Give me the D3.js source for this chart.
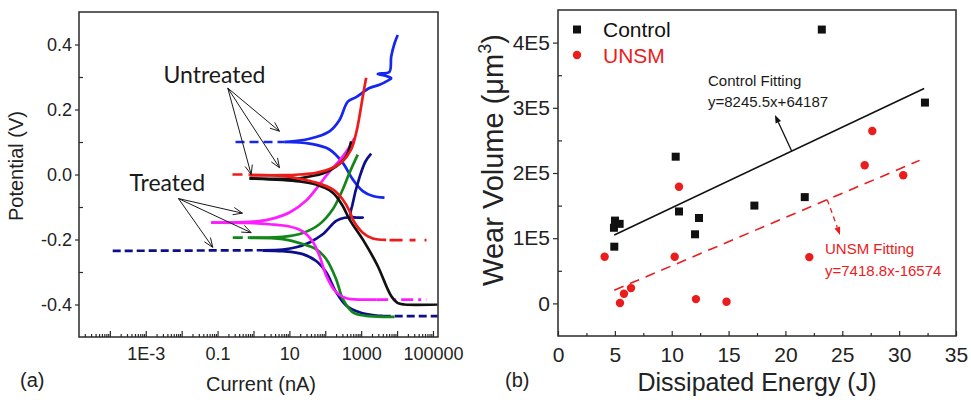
<!DOCTYPE html>
<html>
<head>
<meta charset="utf-8">
<script src="https://cdn.jsdelivr.net/npm/d3@7"></script>
<style>
  body { margin: 0; background: #fff; }
  svg { display: block; }
</style>
</head>
<body>
<svg id="chart" width="971" height="400"></svg>
<script>
// ===== Panel (a): potentiodynamic polarization curves, [current (nA), potential (V)] =====
const blueDash      = [[0.316, 0.100], [7.31, 0.100]];
const blueAnodic    = [[7.31, 0.100], [36.3, 0.110], [131, 0.133], [249, 0.168], [424, 0.224], [726, 0.238],
                       [1702, 0.266], [3236, 0.276], [5508, 0.289], [6855, 0.296], [4966, 0.303], [2897, 0.309],
                       [3606, 0.311], [6138, 0.316], [6855, 0.362], [8472, 0.403], [10447, 0.429]];
const blueCathodic  = [[7.31, 0.100], [36.3, 0.095], [131, 0.077], [307, 0.036], [583, -0.015], [1109, -0.051],
                       [2104, -0.066], [4457, -0.071]];

const redDashLeft   = [[0.260, 0.000], [0.776, 0.000]];
const redAnodic     = [[0.776, -0.002], [6.55, -0.002], [19.1, 0.000], [55.8, 0.005], [162, 0.021], [307, 0.041],
                       [526, 0.077], [726, 0.128], [897, 0.179], [1109, 0.240], [1377, 0.298]];
const redCathodic   = [[0.776, -0.002], [6.55, -0.004], [19.1, -0.013], [55.8, -0.025], [162, -0.046], [307, -0.077],
                       [472, -0.112], [583, -0.138], [1109, -0.179], [2104, -0.197], [4966, -0.201]];
const redDashRight  = [[6166, -0.202], [66069, -0.202]];

const blackAnodic   = [[0.776, -0.012], [19.1, -0.012], [36.3, -0.006], [85.1, 0.003], [201, 0.025], [382, 0.056],
                       [526, 0.102]];
const blackCathodic = [[0.776, -0.012], [19.1, -0.021], [55.8, -0.031], [162, -0.056], [307, -0.097], [472, -0.138],
                       [1230, -0.208], [2844, -0.280], [6855, -0.374], [10233, -0.395], [16069, -0.400], [134896, -0.400]];

const magentaAnodic   = [[0.0664, -0.148], [0.774, -0.146], [2.79, -0.138], [10.1, -0.117], [29.4, -0.080],
                         [68.9, -0.031], [131, 0.009], [249, 0.043], [424, 0.077], [650, 0.112]];
const magentaCathodic = [[0.0664, -0.148], [0.774, -0.149], [2.79, -0.153], [10.1, -0.160], [23.6, -0.175],
                         [44.9, -0.207], [68.9, -0.250], [106, -0.311], [201, -0.362], [382, -0.381], [1109, -0.385],
                         [2618, -0.385]];
const magentaDash     = [[2618, -0.385], [66069, -0.385]];

const greenDash     = [[0.265, -0.194], [0.774, -0.194]];
const greenAnodic   = [[0.774, -0.194], [6.55, -0.192], [23.6, -0.180], [68.9, -0.153], [162, -0.107], [307, -0.046],
                       [472, 0.005], [804, 0.061]];
const greenCathodic = [[0.774, -0.195], [6.55, -0.199], [23.6, -0.214], [55.8, -0.230], [106, -0.260], [201, -0.322],
                       [307, -0.383], [583, -0.424], [1377, -0.435], [4966, -0.438], [8472, -0.438]];

const navyDashLeft  = [[0.000120, -0.235], [1.82, -0.233]];
const navyAnodic    = [[1.82, -0.233], [6.55, -0.231], [15.5, -0.224], [36.3, -0.209], [85.1, -0.184], [201, -0.143],
                       [343, -0.133], [1109, -0.133], [520, -0.128], [573, -0.092], [897, -0.009], [1318, 0.040],
                       [1901, 0.064]];
const navyCathodic  = [[1.82, -0.234], [6.55, -0.236], [23.6, -0.245], [55.8, -0.266], [106, -0.301], [201, -0.362],
                       [382, -0.403], [897, -0.424], [2618, -0.434], [3981, -0.435]];
const navyDashRight = [[3981, -0.436], [134896, -0.436]];

// Axis ticks of panel (a)
const aXLabelValues = [1e-3, 1e-1, 1e1, 1e3, 1e5];
const aXLabels      = ["1E-3", "0.1", "10", "1000", "100000"];
const aYMajor       = [-0.4, -0.2, 0.0, 0.2, 0.4];
const aYMinor       = [-0.3, -0.1, 0.1, 0.3];

// Annotation anchors of panel (a), [current (nA), potential (V)]
const untreatedLabel = [0.00311, 0.283];
const untreatedFrom  = [0.192, 0.266];
const untreatedTips  = [[5.30, 0.133], [5.30, 0.021], [0.863, 0.000]];
const treatedLabel   = [0.000352, -0.051];
const treatedFrom    = [0.00813, -0.074];
const treatedTips    = [[0.494, -0.119], [0.863, -0.179], [0.0735, -0.224]];

// ===== Panel (b): wear volume vs dissipated energy =====
const controlEnergy = [4.95, 4.92, 5.01, 5.42, 10.35, 10.64, 12.05, 12.4, 17.27, 21.7, 23.2, 32.27];
const controlVolume = [87000, 116000, 127000, 122000, 225000, 141000, 106000, 131000, 150000, 163000, 420000, 308000];
const unsmEnergy    = [4.1, 5.45, 5.8, 6.42, 10.26, 10.64, 12.13, 14.82, 22.1, 26.97, 27.64, 30.36];
const unsmVolume    = [71500, 500, 14800, 23500, 71500, 179000, 6600, 2600, 71000, 212000, 264500, 196500];

const controlFit = { slope: 8245.5, intercept: 64187, from: 4.95, to: 32.2 };
const unsmFit    = { slope: 7418.8, intercept: -16574, from: 4.95, to: 31.8 };

const bXMajor  = [0, 5, 10, 15, 20, 25, 30, 35];
const bXMinor  = [2.5, 7.5, 12.5, 17.5, 22.5, 27.5, 32.5];
const bYMajor  = [0, 100000, 200000, 300000, 400000];
const bYLabels = ["0", "1E5", "2E5", "3E5", "4E5"];
const bYMinor  = [50000, 150000, 250000, 350000];

// ===== drawing =====
const svg = d3.select("#chart");
const AXIS_FONT = "'Liberation Sans', Arial, sans-serif";
const NOTE_FONT = "Lato, 'Open Sans', sans-serif";
const FRAME = "#2a2a2a";

function styleAxis(g, size) {
  g.select(".domain").remove();
  g.selectAll("line").attr("stroke", FRAME).attr("stroke-width", 1.2);
  g.selectAll("text").attr("font-family", AXIS_FONT).attr("font-size", size).attr("fill", "#222");
}

function openArrow(g, x1, y1, x2, y2) {
  const a = Math.atan2(y2 - y1, x2 - x1), L = 10, s = 0.38;
  g.append("line").attr("x1", x1).attr("y1", y1).attr("x2", x2).attr("y2", y2);
  g.append("path").attr("fill", "none")
    .attr("d", `M${x2 - L * Math.cos(a - s)},${y2 - L * Math.sin(a - s)} L${x2},${y2} L${x2 - L * Math.cos(a + s)},${y2 - L * Math.sin(a + s)}`);
}

function solidArrow(g, x1, y1, x2, y2, color, dash) {
  const a = Math.atan2(y2 - y1, x2 - x1), L = 8, hw = 3;
  const bx0 = x2 - L * Math.cos(a), by0 = y2 - L * Math.sin(a);
  g.append("line").attr("x1", x1).attr("y1", y1).attr("x2", bx0).attr("y2", by0)
    .attr("stroke", color).attr("stroke-width", 1.3).attr("stroke-dasharray", dash || null);
  g.append("path").attr("fill", color)
    .attr("d", `M${x2},${y2} L${bx0 + hw * Math.sin(a)},${by0 - hw * Math.cos(a)} L${bx0 - hw * Math.sin(a)},${by0 + hw * Math.cos(a)} Z`);
}

// ---------- Panel (a) ----------
const ax = d3.scaleLog().domain([Math.pow(10, -4.86), Math.pow(10, 5.14)]).range([79, 438]);
const ay = d3.scaleLinear().domain([-0.5, 0.5]).range([337, 12]);

svg.append("clipPath").attr("id", "clipA").append("rect")
  .attr("x", 79).attr("y", 12).attr("width", 359).attr("height", 325);

const aDecades = d3.range(-4, 6).map(e => Math.pow(10, e));
const aMinor = [];
for (let e = -5; e <= 5; e++) for (let k = 2; k <= 9; k++) {
  const v = k * Math.pow(10, e);
  if (v > ax.domain()[0] && v < ax.domain()[1]) aMinor.push(v);
}

const gA = svg.append("g");
styleAxis(gA.append("g").attr("transform", "translate(0,337)")
  .call(d3.axisBottom(ax).tickValues(aMinor).tickFormat("").tickSizeInner(-3).tickSizeOuter(0)), 18);
styleAxis(gA.append("g").attr("transform", "translate(0,337)")
  .call(d3.axisBottom(ax).tickValues(aDecades).tickFormat("").tickSizeInner(-6).tickSizeOuter(0)), 18);
styleAxis(gA.append("g").attr("transform", "translate(0,337)")
  .call(d3.axisBottom(ax).tickValues(aXLabelValues).tickFormat((d, i) => aXLabels[i])
    .tickSizeInner(0).tickSizeOuter(0).tickPadding(10)), 18);
styleAxis(gA.append("g").attr("transform", "translate(79,0)")
  .call(d3.axisLeft(ay).tickValues(aYMajor).tickFormat(d => d.toFixed(1))
    .tickSizeInner(4).tickSizeOuter(0).tickPadding(3)), 18);
styleAxis(gA.append("g").attr("transform", "translate(79,0)")
  .call(d3.axisLeft(ay).tickValues(aYMinor).tickFormat("").tickSizeInner(-4).tickSizeOuter(0)), 18);

const curveLine = d3.line().x(d => ax(d[0])).y(d => ay(d[1])).curve(d3.curveCatmullRom.alpha(0.5));
const straight = d3.line().x(d => ax(d[0])).y(d => ay(d[1]));

const BLUE = "#1426f0", RED = "#ee1b1b", BLACK = "#111111", MAGENTA = "#ff1cff", GREEN = "#13861a", NAVY = "#0c0f8c";
const aSegments = [
  { pts: blueDash, color: BLUE, dash: "9,5", line: straight },
  { pts: blueCathodic, color: BLUE }, { pts: blueAnodic, color: BLUE },
  { pts: navyDashLeft, color: NAVY, dash: "8,4", line: straight },
  { pts: navyCathodic, color: NAVY }, { pts: navyAnodic, color: NAVY },
  { pts: navyDashRight, color: NAVY, dash: "8,4", line: straight },
  { pts: greenDash, color: GREEN, dash: "10,5", line: straight },
  { pts: greenCathodic, color: GREEN }, { pts: greenAnodic, color: GREEN },
  { pts: magentaCathodic, color: MAGENTA }, { pts: magentaAnodic, color: MAGENTA },
  { pts: magentaDash, color: MAGENTA, dash: "12,5,3,5", line: straight },
  { pts: blackCathodic, color: BLACK }, { pts: blackAnodic, color: BLACK },
  { pts: redDashLeft, color: RED, dash: "10,6", line: straight },
  { pts: redCathodic, color: RED }, { pts: redAnodic, color: RED },
  { pts: redDashRight, color: RED, dash: "13,7,6,9", line: straight }
];
const curvesA = svg.append("g").attr("clip-path", "url(#clipA)");
aSegments.forEach(s => {
  curvesA.append("path").attr("d", (s.line || curveLine)(s.pts))
    .attr("fill", "none").attr("stroke", s.color).attr("stroke-width", 2.7)
    .attr("stroke-linejoin", "round").attr("stroke-linecap", "butt")
    .attr("stroke-dasharray", s.dash || null);
});

// annotations of panel (a)
const notesA = svg.append("g").attr("stroke", "#1a1a1a").attr("stroke-width", 1);
untreatedTips.forEach(t => openArrow(notesA, ax(untreatedFrom[0]), ay(untreatedFrom[1]), ax(t[0]), ay(t[1])));
treatedTips.forEach(t => openArrow(notesA, ax(treatedFrom[0]), ay(treatedFrom[1]), ax(t[0]), ay(t[1])));
svg.append("text").attr("x", ax(untreatedLabel[0])).attr("y", ay(untreatedLabel[1]))
  .attr("font-family", NOTE_FONT).attr("font-size", 23).attr("fill", "#1a1a1a").text("Untreated");
svg.append("text").attr("x", ax(treatedLabel[0])).attr("y", ay(treatedLabel[1]))
  .attr("font-family", NOTE_FONT).attr("font-size", 23).attr("fill", "#1a1a1a").text("Treated");

svg.append("rect").attr("x", 79).attr("y", 12).attr("width", 359).attr("height", 325)
  .attr("fill", "none").attr("stroke", FRAME).attr("stroke-width", 1.5);

svg.append("text").attr("x", 261).attr("y", 391).attr("text-anchor", "middle")
  .attr("font-family", AXIS_FONT).attr("font-size", 20).attr("fill", "#222").text("Current (nA)");
svg.append("text").attr("transform", "translate(23,166) rotate(-90)").attr("text-anchor", "middle")
  .attr("font-family", AXIS_FONT).attr("font-size", 20).attr("fill", "#222").text("Potential (V)");
svg.append("text").attr("x", 20).attr("y", 387)
  .attr("font-family", AXIS_FONT).attr("font-size", 20).attr("fill", "#222").text("(a)");

// ---------- Panel (b) ----------
const bx = d3.scaleLinear().domain([0, 35]).range([558, 956]);
const by = d3.scaleLinear().domain([-50000, 450000]).range([336, 10]);

const gB = svg.append("g");
styleAxis(gB.append("g").attr("transform", "translate(0,336)")
  .call(d3.axisBottom(bx).tickValues(bXMinor).tickFormat("").tickSizeInner(-3).tickSizeOuter(0)), 21);
styleAxis(gB.append("g").attr("transform", "translate(0,336)")
  .call(d3.axisBottom(bx).tickValues(bXMajor).tickFormat(d3.format("d"))
    .tickSizeInner(-5).tickSizeOuter(0).tickPadding(11)), 21);
styleAxis(gB.append("g").attr("transform", "translate(558,0)")
  .call(d3.axisLeft(by).tickValues(bYMajor).tickFormat((d, i) => bYLabels[i])
    .tickSizeInner(5).tickSizeOuter(0).tickPadding(3)), 21);
styleAxis(gB.append("g").attr("transform", "translate(558,0)")
  .call(d3.axisLeft(by).tickValues(bYMinor).tickFormat("").tickSizeInner(-4).tickSizeOuter(0)), 21);

const CTRL = "#111111", UNSM = "#ea1c1c";

// fitted lines
const fitLine = d3.line().x(d => bx(d[0])).y(d => by(d[1]));
const fitPts = f => [f.from, f.to].map(x => [x, f.slope * x + f.intercept]);
svg.append("path").attr("d", fitLine(fitPts(controlFit))).attr("fill", "none")
  .attr("stroke", CTRL).attr("stroke-width", 1.6);
svg.append("path").attr("d", fitLine(fitPts(unsmFit))).attr("fill", "none")
  .attr("stroke", UNSM).attr("stroke-width", 1.6).attr("stroke-dasharray", "10,7");

// points
svg.append("g").selectAll("rect").data(controlEnergy.map((e, i) => [e, controlVolume[i]])).join("rect")
  .attr("x", d => bx(d[0]) - 4).attr("y", d => by(d[1]) - 4).attr("width", 8).attr("height", 8).attr("fill", CTRL);
svg.append("g").selectAll("circle").data(unsmEnergy.map((e, i) => [e, unsmVolume[i]])).join("circle")
  .attr("cx", d => bx(d[0])).attr("cy", d => by(d[1])).attr("r", 4.2).attr("fill", UNSM);

// fit annotations
const ctrlArrowFrom = 20.55, ctrlArrowTo = [19.08, 289000];
solidArrow(svg, bx(ctrlArrowFrom), by(controlFit.slope * ctrlArrowFrom + controlFit.intercept),
  bx(ctrlArrowTo[0]), by(ctrlArrowTo[1]), CTRL);
const unsmArrowFrom = 23.68, unsmArrowTo = [24.8, 105000];
solidArrow(svg, bx(unsmArrowFrom), by(unsmFit.slope * unsmArrowFrom + unsmFit.intercept),
  bx(unsmArrowTo[0]), by(unsmArrowTo[1]), UNSM, "5,4");

const note = (x, y, txt, color) => svg.append("text").attr("x", x).attr("y", y)
  .attr("font-family", AXIS_FONT).attr("font-size", 15).attr("fill", color).text(txt);
note(bx(13.19), by(333400), "Control Fitting", "#1a1a1a");
note(bx(13.19), by(300800), `y=${controlFit.slope}x+${controlFit.intercept}`, "#1a1a1a");
note(bx(23.48), by(75800), "UNSM Fitting", UNSM);
note(bx(23.48), by(42000), `y=${unsmFit.slope}x${unsmFit.intercept}`, UNSM);

// legend
const leg = svg.append("g").attr("transform", "translate(577,0)");
leg.append("rect").attr("x", -4).attr("y", 25.5).attr("width", 8).attr("height", 8).attr("fill", CTRL);
leg.append("circle").attr("cx", 0).attr("cy", 55).attr("r", 4.2).attr("fill", UNSM);
leg.append("text").attr("x", 26).attr("y", 36.5).attr("font-family", AXIS_FONT).attr("font-size", 21)
  .attr("fill", "#111").text("Control");
leg.append("text").attr("x", 26).attr("y", 62.5).attr("font-family", AXIS_FONT).attr("font-size", 21)
  .attr("fill", UNSM).text("UNSM");

svg.append("rect").attr("x", 558).attr("y", 10).attr("width", 398).attr("height", 326)
  .attr("fill", "none").attr("stroke", FRAME).attr("stroke-width", 1.5);

svg.append("text").attr("x", 757).attr("y", 391).attr("text-anchor", "middle")
  .attr("font-family", AXIS_FONT).attr("font-size", 25).attr("fill", "#222").text("Dissipated Energy (J)");
const yTitle = svg.append("text").attr("transform", "translate(503,160) rotate(-90)").attr("text-anchor", "middle")
  .attr("font-family", AXIS_FONT).attr("font-size", 29).attr("fill", "#222");
yTitle.append("tspan").text("Wear Volume (\u03bcm");
yTitle.append("tspan").attr("font-size", 18).attr("dy", -12).text("3");
yTitle.append("tspan").attr("dy", 12).text(")");
svg.append("text").attr("x", 505).attr("y", 387)
  .attr("font-family", AXIS_FONT).attr("font-size", 20).attr("fill", "#222").text("(b)");
</script>
</body>
</html>
